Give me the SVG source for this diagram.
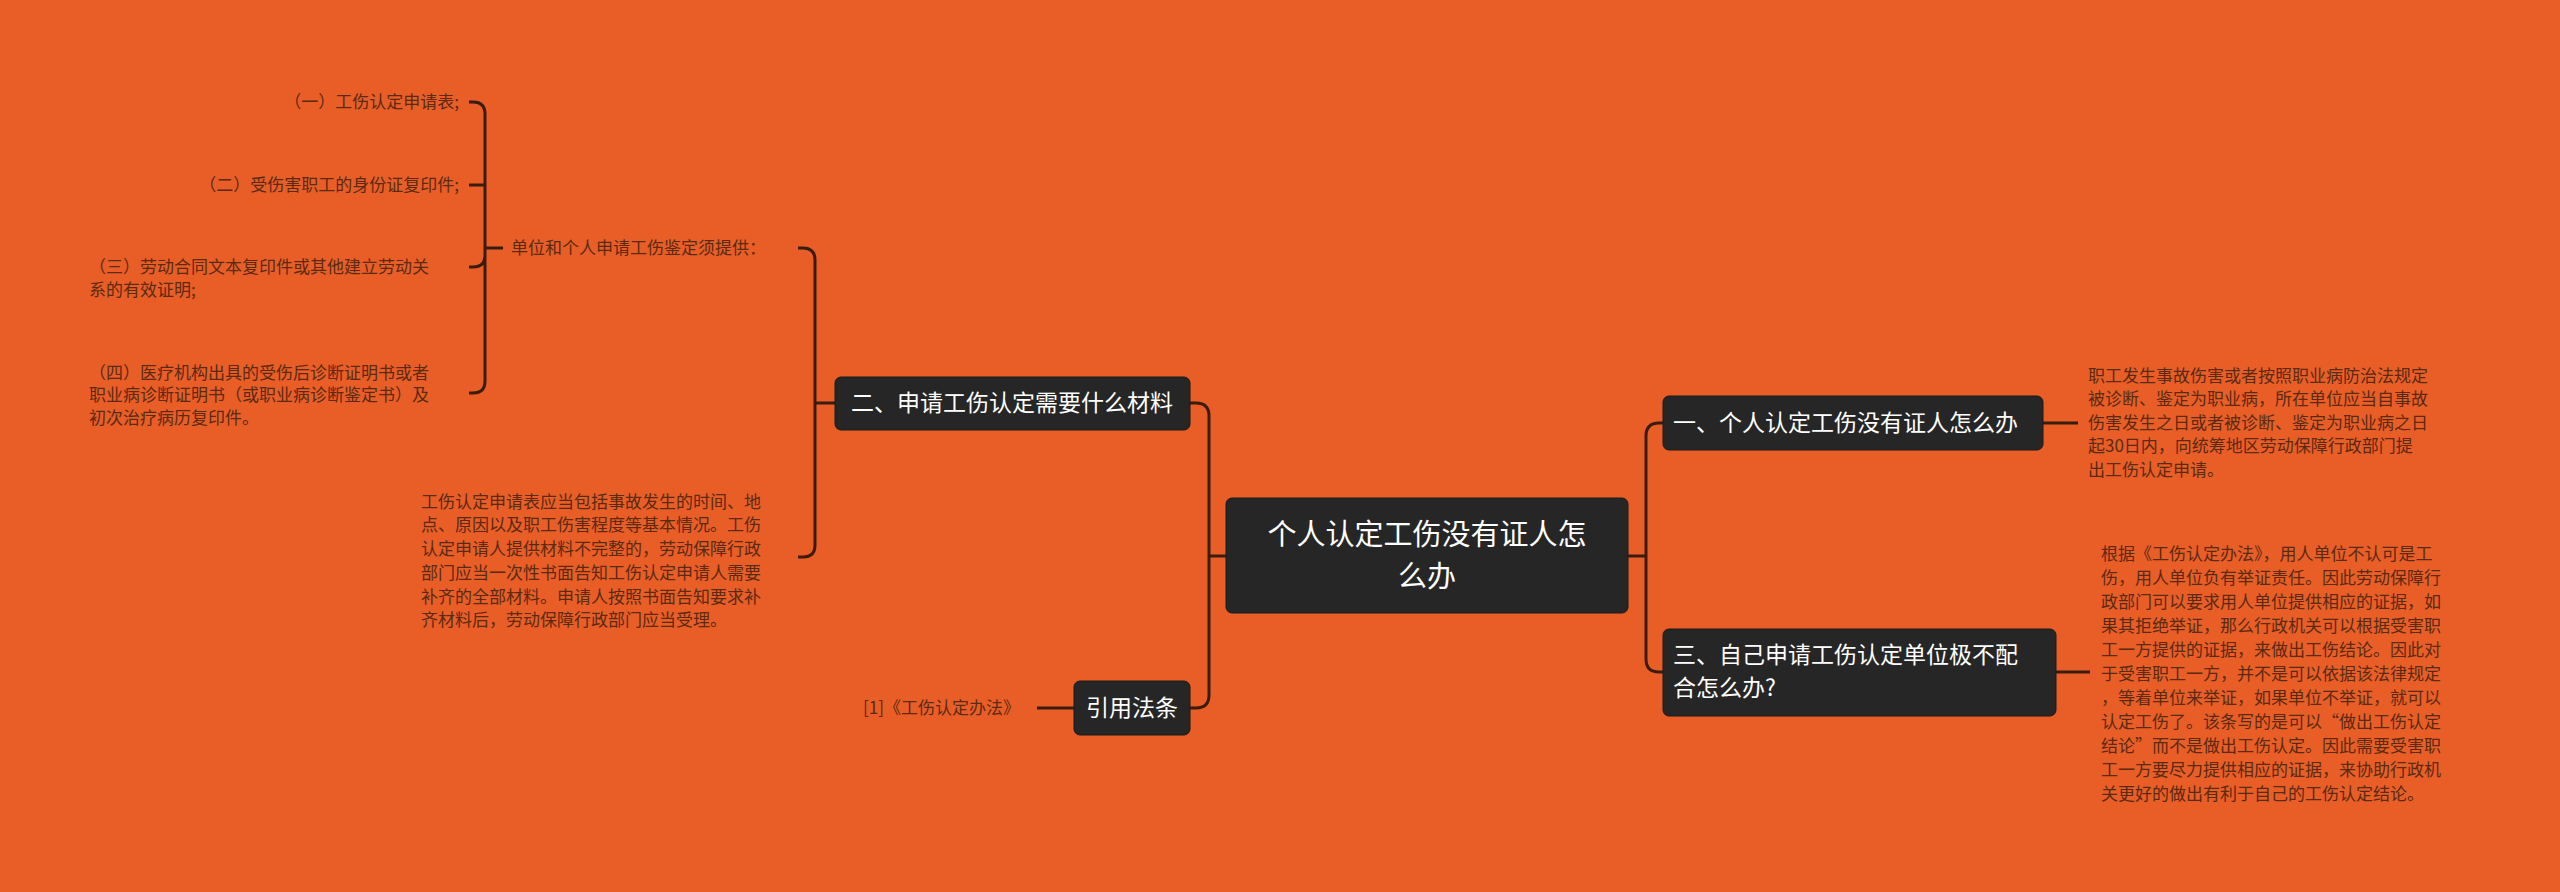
<svg xmlns="http://www.w3.org/2000/svg" width="2560" height="892" viewBox="0 0 2560 892">
<style>
.n{fill:#262626;stroke:#1a1a1a;stroke-width:1}
.nt{fill:#fff;font-family:"Noto Sans CJK SC",sans-serif;font-size:23px}
.ct{fill:#fff;font-family:"Noto Sans CJK SC",sans-serif;font-size:29px}
.lt{fill:#5a2a12;font-family:"Noto Sans CJK SC",sans-serif;font-size:17px}
.c path{fill:none;stroke:#3a1c0c;stroke-width:3}
</style>
<rect width="2560" height="892" fill="#E95E27"/>
<g class="c">
<path d="M1628 556H1646M1646 556V436Q1646 423 1659 423H1663M1646 556V659Q1646 672 1659 672H1663"/>
<path d="M2043 423H2078M2056 672H2090"/>
<path d="M1226 556H1209M1209 556V416Q1209 403 1196 403H1190M1209 556V695Q1209 708 1196 708H1190"/>
<path d="M1074 708H1037"/>
<path d="M835 403H815M815 403V260Q815 248 803 248H798M815 403V545Q815 557 803 557H798"/>
<path d="M503 248H485M485 248V114Q485 102 473 102H469M485 185H469M485 248V255Q485 267 473 267H469M485 248V381Q485 393 473 393H469"/>
</g>
<g id="center"><rect class="n" x="1226" y="498" width="402" height="115" rx="6"/>
<text class="ct" x="1427" y="545" text-anchor="middle">个人认定工伤没有证人怎</text>
<text class="ct" x="1427" y="587" text-anchor="middle">么办</text></g>
<g id="n2"><rect class="n" x="835" y="377" width="355" height="53" rx="6"/>
<text class="nt" x="1012" y="411" text-anchor="middle">二、申请工伤认定需要什么材料</text></g>
<g id="nref"><rect class="n" x="1074" y="681" width="116" height="54" rx="6"/>
<text class="nt" x="1132" y="716" text-anchor="middle">引用法条</text></g>
<g id="n1"><rect class="n" x="1663" y="396" width="380" height="54" rx="6"/>
<text class="nt" x="1673" y="431">一、个人认定工伤没有证人怎么办</text></g>
<g id="n3"><rect class="n" x="1663" y="629" width="393" height="87" rx="6"/>
<text class="nt" x="1673" y="663">三、自己申请工伤认定单位极不配</text>
<text class="nt" x="1673" y="696">合怎么办?</text></g>
<g id="ref1"><text class="lt" x="1020" y="714" text-anchor="end">[1]《工伤认定办法》</text></g>
<g id="l1"><text class="lt" x="2088" y="382">职工发生事故伤害或者按照职业病防治法规定</text>
<text class="lt" x="2088" y="405">被诊断、鉴定为职业病，所在单位应当自事故</text>
<text class="lt" x="2088" y="429">伤害发生之日或者被诊断、鉴定为职业病之日</text>
<text class="lt" x="2088" y="452">起30日内，向统筹地区劳动保障行政部门提</text>
<text class="lt" x="2088" y="476">出工伤认定申请。</text></g>
<g id="l3" class="lt"><text x="2101" y="560">根据《工伤认定办法》，用人单位不认可是工</text>
<text x="2101" y="584">伤，用人单位负有举证责任。因此劳动保障行</text>
<text x="2101" y="608">政部门可以要求用人单位提供相应的证据，如</text>
<text x="2101" y="632">果其拒绝举证，那么行政机关可以根据受害职</text>
<text x="2101" y="656">工一方提供的证据，来做出工伤结论。因此对</text>
<text x="2101" y="680">于受害职工一方，并不是可以依据该法律规定</text>
<text x="2101" y="704">，等着单位来举证，如果单位不举证，就可以</text>
<text x="2101" y="728">认定工伤了。该条写的是可以“做出工伤认定</text>
<text x="2101" y="752">结论”而不是做出工伤认定。因此需要受害职</text>
<text x="2101" y="776">工一方要尽力提供相应的证据，来协助行政机</text>
<text x="2101" y="800">关更好的做出有利于自己的工伤认定结论。</text></g>
<g id="s" class="lt"><text x="511" y="254">单位和个人申请工伤鉴定须提供：</text></g>
<g id="s1" class="lt"><text x="459" y="108" text-anchor="end">（一）工伤认定申请表;</text></g>
<g id="s2" class="lt"><text x="459" y="191" text-anchor="end">（二）受伤害职工的身份证复印件;</text></g>
<g id="s3" class="lt"><text x="89" y="273">（三）劳动合同文本复印件或其他建立劳动关</text>
<text x="89" y="296">系的有效证明;</text></g>
<g id="s4" class="lt"><text x="89" y="379">（四）医疗机构出具的受伤后诊断证明书或者</text>
<text x="89" y="401">职业病诊断证明书（或职业病诊断鉴定书）及</text>
<text x="89" y="424">初次治疗病历复印件。</text></g>
<g id="p" class="lt"><text x="421" y="508">工伤认定申请表应当包括事故发生的时间、地</text>
<text x="421" y="531">点、原因以及职工伤害程度等基本情况。工伤</text>
<text x="421" y="555">认定申请人提供材料不完整的，劳动保障行政</text>
<text x="421" y="579">部门应当一次性书面告知工伤认定申请人需要</text>
<text x="421" y="603">补齐的全部材料。申请人按照书面告知要求补</text>
<text x="421" y="626">齐材料后，劳动保障行政部门应当受理。</text></g>
</svg>
